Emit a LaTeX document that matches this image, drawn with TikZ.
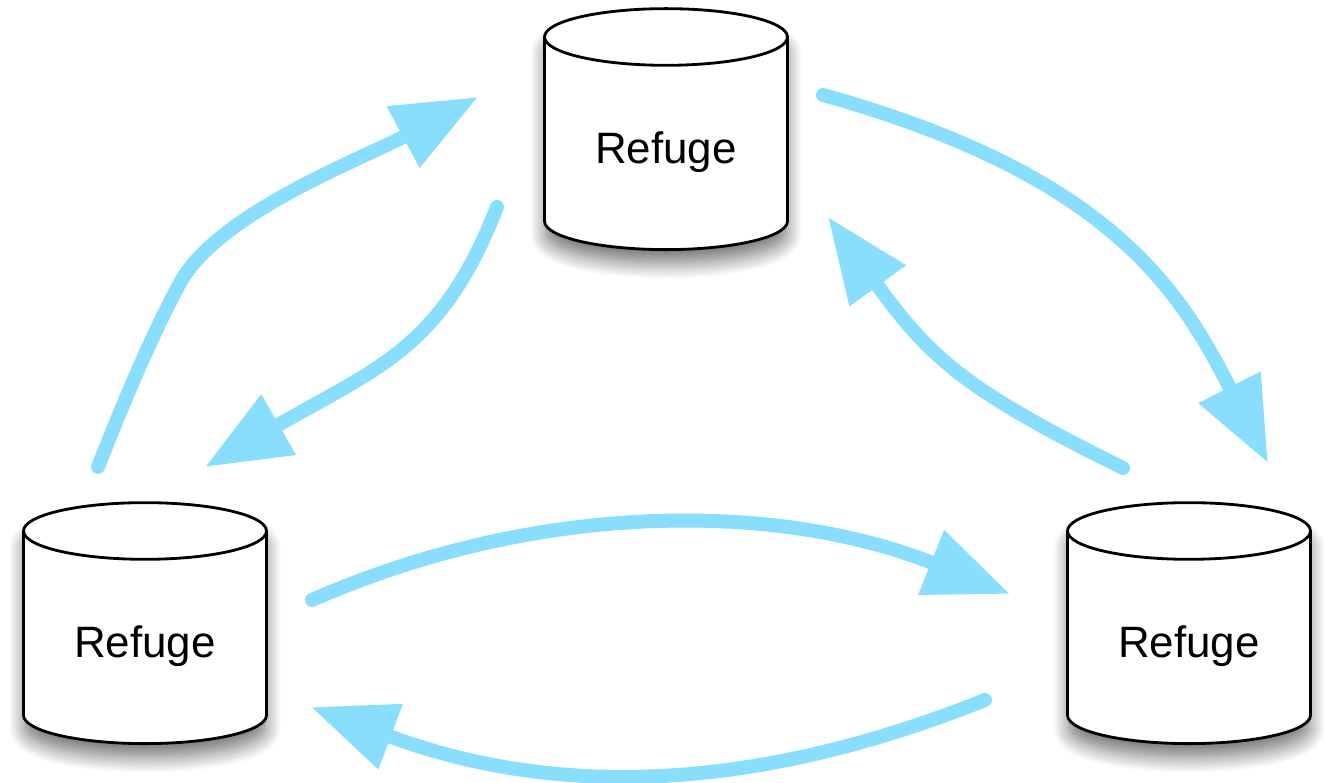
\documentclass[tikz,border=0pt]{standalone}
\usepackage{fontspec}
\setmainfont{Liberation Sans}
\usetikzlibrary{shapes.geometric, arrows.meta, shadows.blur}
\definecolor{flowblue}{RGB}{136,222,252}

\begin{document}
\begin{tikzpicture}[x=0.02cm, y=-0.02cm,
  refuge/.style={cylinder, shape border rotate=90, aspect=0.4, draw, line width=1.6pt,
    fill=white, minimum width=4.86cm, minimum height=4.82cm, inner sep=0pt,
    font=\fontsize{25}{30}\selectfont, text height=0.96cm, text depth=0.18cm,
    blur shadow={shadow xshift=0pt, shadow yshift=-0.3cm, shadow scale=0.98,
      shadow blur radius=0.35cm, shadow blur steps=20, shadow opacity=60}},
  flow/.style={draw=flowblue, line width=0.28cm, line cap=round,
    -{Triangle[length=1.7cm, width=1.32cm]}}]
\useasboundingbox (0,0) rectangle (1326,783);

% Refuges
\node[refuge] (rtop) at (666,144) {Refuge};
\node[refuge] (rleft) at (145,638) {Refuge};
\node[refuge] (rright) at (1189,638) {Refuge};

% Arrow ends
\coordinate (lt0) at (98,467);
\coordinate (lt1) at (478,97);
\coordinate (tl0) at (497,207);
\coordinate (tl1) at (205,467);
\coordinate (tr0) at (823,95);
\coordinate (tr1) at (1268,463);
\coordinate (rt0) at (1123,468);
\coordinate (rt1) at (828,217);
\coordinate (lr0) at (312,600);
\coordinate (lr1) at (1010,594);
\coordinate (rl0) at (985,700);
\coordinate (rl1) at (311,707);

% Flows
\draw[flow] (lt0) .. controls (120,411) and (151,336) .. (180,283)
  .. controls (218,213) and (364,158) .. (lt1);
\draw[flow] (tl0) .. controls (442,348) and (379,367) .. (tl1);
\draw[flow] (tr0) .. controls (1110,175) and (1180,290) .. (tr1);
\draw[flow] (rt0) .. controls (965,390) and (930,358) .. (rt1);
\draw[flow] (lr0) .. controls (540,500) and (780,502) .. (lr1);
\draw[flow] (rl0) .. controls (760,790) and (560,800) .. (rl1);
\end{tikzpicture}
\end{document}
